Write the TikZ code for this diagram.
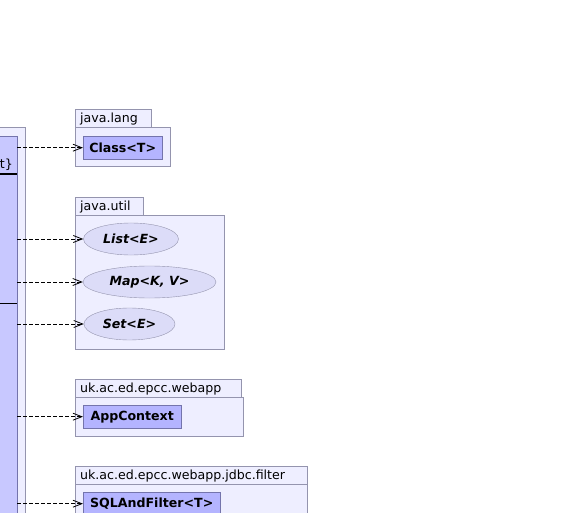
\documentclass[tikz,border=0pt]{standalone}
\usepackage{fontspec}
\setmainfont{DejaVu Sans}
\usetikzlibrary{positioning,arrows.meta,shapes.geometric}
\definecolor{pkgfill}{HTML}{EEEEFF}
\definecolor{pkgline}{HTML}{9494AE}
\definecolor{clsfill}{HTML}{B4B4FF}
\definecolor{clsline}{HTML}{7474AC}
\definecolor{ifcfill}{HTML}{DCDCF8}
\definecolor{ctxfill}{HTML}{C8C8FF}

\begin{document}
\begin{tikzpicture}[x=1bp,y=-1bp,font=\fontsize{12.6bp}{14bp}\selectfont,
  pkgtab/.style={draw=pkgline,fill=pkgfill,anchor=south west,inner ysep=0pt,inner xsep=5bp,text height=14bp,text depth=4bp,text width=#1,align=left},
  pkgbody/.style={draw=pkgline,fill=pkgfill,anchor=north west,inner sep=0pt},
  cls/.style={draw=clsline,fill=clsfill,anchor=north west,inner sep=0pt,minimum height=23bp,font=\fontsize{12.6bp}{14bp}\selectfont\bfseries},
  ifc/.style={ellipse,draw=pkgline,fill=ifcfill,inner sep=0pt,minimum height=32bp,font=\fontsize{12.6bp}{14bp}\selectfont\bfseries\itshape},
  dep/.style={draw=black,line width=0.8bp,dash pattern=on 4bp off 2bp,-{Straight Barb[length=9bp,width=7bp]}},
  sepline/.style={line width=1.5bp,black}]
  \clip (0,0) rectangle (583,513);
  % package holding the context class (cut off at the left)
  \node[pkgbody,anchor=north east,minimum width=80bp,minimum height=420bp] (ctxpkg) at (25,127) {};
  \node[draw=clsline,fill=ctxfill,anchor=north east,inner sep=0pt,minimum width=70bp,minimum height=410bp] (ctx) at (17,136) {};
  \node[anchor=base east,inner sep=0pt] (ctxname) at (13,169) {t\}};
  \draw[sepline] (ctx.west |- 0,174) -- (ctx.east |- 0,174);
  \draw[sepline] (ctx.west |- 0,303.5) -- (ctx.east |- 0,303.5);
  % java.lang
  \node[pkgbody,minimum width=95bp,minimum height=39bp] (langbody) at (75,127) {};
  \node[pkgtab=66bp] (langtab) at (langbody.north west) {java.lang};
  \node[cls,minimum width=79bp] (clsT) at ([shift={(8,9)}]langbody.north west) {Class<T>};
  % java.util
  \node[pkgbody,minimum width=149bp,minimum height=134bp] (utilbody) at (75,215) {};
  \node[pkgtab=58bp] (utiltab) at (utilbody.north west) {java.util};
  \node[ifc,minimum width=95bp] (listE) at (131,239) {List<E>};
  \node[ifc,minimum width=133bp] (mapKV) at (149.5,282) {Map<K, V>};
  \node[ifc,minimum width=91bp] (setE) at (129.5,324) {Set<E>};
  % uk.ac.ed.epcc.webapp
  \node[pkgbody,minimum width=168bp,minimum height=39bp] (appbody) at (75,397) {};
  \node[pkgtab=156bp] (apptab) at (appbody.north west) {uk.ac.ed.epcc.webapp};
  \node[cls,minimum width=98bp] (appctx) at ([shift={(8,8)}]appbody.north west) {AppContext};
  % uk.ac.ed.epcc.webapp.jdbc.filter
  \node[pkgbody,minimum width=232bp,minimum height=60bp] (filtbody) at (75,484) {};
  \node[pkgtab=222bp] (filttab) at (filtbody.north west) {uk.ac.ed.epcc.webapp.jdbc.filter};
  \node[cls,minimum width=137bp] (sqlfilt) at ([shift={(8,8)}]filtbody.north west) {SQLAndFilter<T>};
  % dependencies
  \foreach \tgt in {clsT,listE,mapKV,setE,appctx,sqlfilt}
    \draw[dep] (ctx.east |- \tgt) -- (\tgt);
\end{tikzpicture}
\end{document}
